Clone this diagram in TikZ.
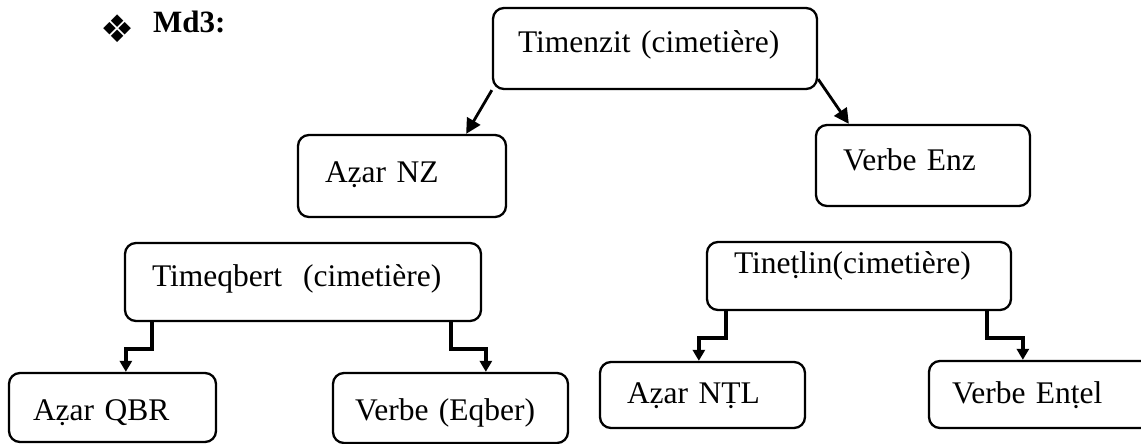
\documentclass[tikz,border=0pt]{standalone}
\usepackage{fontspec}
\setmainfont{Liberation Serif}
\newfontfamily\symfont{DejaVu Sans}
\usetikzlibrary{arrows.meta}
\tikzset{
  box/.style={draw, line width=2.3pt, rounded corners=11pt, inner ysep=0pt, align=left,
    font=\fontsize{31.5}{36}\selectfont},
  arr/.style={line width=2.8pt, -{Triangle[length=15pt,width=15pt]}},
  earr/.style={line width=3.6pt, -{Triangle[length=11pt,width=12pt]}},
}
\begin{document}
\begin{tikzpicture}[x=1pt,y=-1pt]
\useasboundingbox (0,0) rectangle (1141,444);
% title
\node[anchor=base west, inner sep=0pt, font=\symfont\fontsize{38}{44}\selectfont] (bullet) at (100,43) {❖};
\node[anchor=base west, inner sep=0pt, font=\bfseries\fontsize{31}{36}\selectfont] (title) at (153,33) {Md3:};
% boxes
\node[box, text width=274pt, inner xsep=25pt, text height=45pt, text depth=36pt] (top) at (655,48.5) {Timenzit (cimetière)};
\node[box, text width=154pt, inner xsep=27pt, text height=47pt, text depth=35pt] (nz) at (402,176) {Aẓar NZ};
\node[box, text width=160pt, inner xsep=27pt, text height=45pt, text depth=36pt] (enz) at (923,165.5) {Verbe Enz};
\node[box, text width=302pt, inner xsep=27pt, text height=43pt, text depth=35pt] (qb) at (303,282) {Timeqbert~ (cimetière)};
\node[box, text width=250pt, inner xsep=27pt, text height=31pt, text depth=37pt] (tn) at (859,276) {Tineṭlin(cimetière)};
\node[box, text width=159pt, inner xsep=24pt, text height=47pt, text depth=22pt] (qbr) at (112.5,407.5) {Aẓar QBR};
\node[box, text width=191pt, inner xsep=22pt, text height=47pt, text depth=23pt] (eqb) at (450.5,408) {Verbe (Eqber)};
\node[box, text width=151pt, inner xsep=27pt, text height=41pt, text depth=25pt] (ntl) at (702.5,395) {Aẓar NṬL};
\node[box, text width=185pt, inner xsep=23pt, text height=42pt, text depth=25pt] (ent) at (1044.5,394.5) {Verbe Enṭel};
% connectors
\draw[arr] (top.south west) -- ([xshift=-41pt]nz.north east);
\draw[arr] ([yshift=11pt]top.south east) -- ([xshift=34pt]enz.north west);
\draw[earr] ([xshift=28pt]qb.south west) -- ++(0,27) -| ([xshift=118pt]qbr.north west);
\draw[earr] ([xshift=-31pt]qb.south east) -- ++(0,27) -| ([xshift=154pt]eqb.north west);
\draw[earr] ([xshift=20pt]tn.south west) -- ++(0,27) -| ([xshift=100pt]ntl.north west);
\draw[earr] ([xshift=-25pt]tn.south east) -- ++(0,27) -| ([xshift=95pt]ent.north west);
\end{tikzpicture}
\end{document}
